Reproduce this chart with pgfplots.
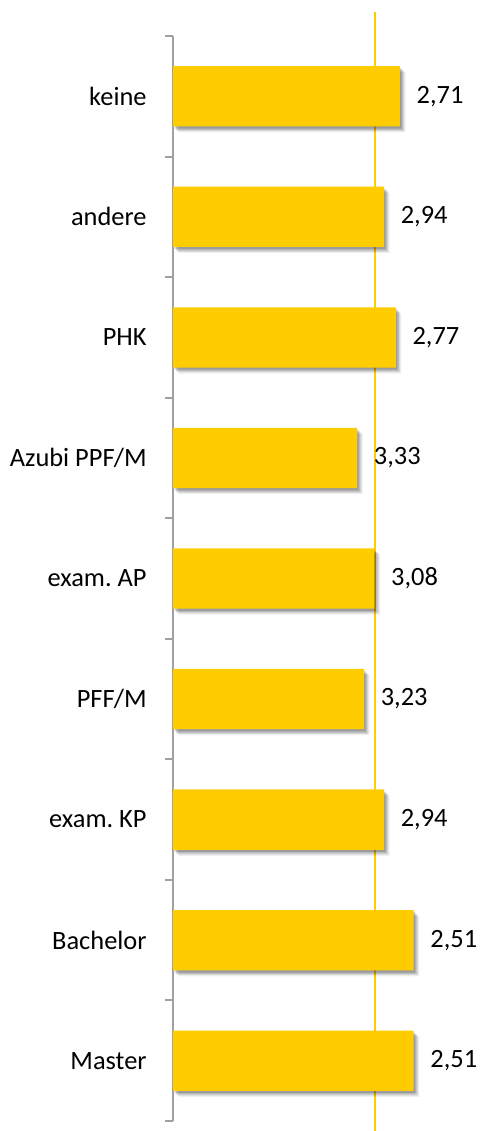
\documentclass[border=0pt]{standalone}
\usepackage{fontspec}
\setmainfont{Carlito}
\usepackage{pgfplots}
\usepackage{pgfplotstable}
\pgfplotsset{compat=1.18}
\usetikzlibrary{shadows}
\definecolor{barcol}{RGB}{255,204,0}
\definecolor{axgray}{RGB}{160,160,160}
\pgfplotstableread{
y v
0 2.71
1 2.94
2 2.77
3 3.33
4 3.08
5 3.23
6 2.94
7 2.51
8 2.51
}\data
\begin{document}
\frenchspacing
\begin{tikzpicture}[font=\fontsize{13.2}{16}\selectfont]
\begin{axis}[
  name=ax,
  scale only axis,
  width=154pt, height=542.5pt,
  xmin=0, xmax=4.466,
  ymin=-0.5, ymax=8.5,
  y dir=reverse,
  clip=false,
  axis y line*=left,
  axis x line=none,
  xtick=\empty,
  ytick={0,...,8},
  yticklabels={keine,andere,PHK,Azubi PPF/M,exam. AP,PFF/M,exam. KP,Bachelor,Master},
  minor ytick={-0.5,0.5,...,8.5},
  major tick length=0pt,
  minor tick length=4pt,
  tick align=outside,
  y axis line style={draw=axgray, line width=1pt},
  every minor tick/.style={draw=axgray, line width=1pt},
  yticklabel style={inner sep=0pt, xshift=-13pt, font=\fontsize{13.2}{16}\selectfont\frenchspacing},
]
\addplot[draw=barcol, line width=1pt] coordinates {(2.93,-0.7) (2.93,8.58)};
\addplot[xbar, bar width=0.5, fill=barcol, draw=none,
  drop shadow={shadow xshift=2.8pt, shadow yshift=-3pt, fill=black, opacity=0.06},
  drop shadow={shadow xshift=2.2pt, shadow yshift=-2.4pt, fill=black, opacity=0.1},
  drop shadow={shadow xshift=1.5pt, shadow yshift=-1.8pt, fill=black, opacity=0.14},
  drop shadow={shadow xshift=0.8pt, shadow yshift=-1.1pt, fill=black, opacity=0.16},
  point meta=explicit,
  nodes near coords={\pgfmathprintnumber[assume math mode=true, use comma, fixed, fixed zerofill, precision=2]{\pgfplotspointmeta}},
  every node near coord/.append style={anchor=west, inner sep=0pt, xshift=8.2pt, text=black, font=\fontsize{13.2}{16}\selectfont},
] table[x expr=6-\thisrow{v}, y=y, meta=v] {\data};
\end{axis}
\pgfresetboundingbox
\path ([xshift=-86.5pt,yshift=-5pt]ax.south west) rectangle ([yshift=18pt]ax.north east);
\end{tikzpicture}
\end{document}
